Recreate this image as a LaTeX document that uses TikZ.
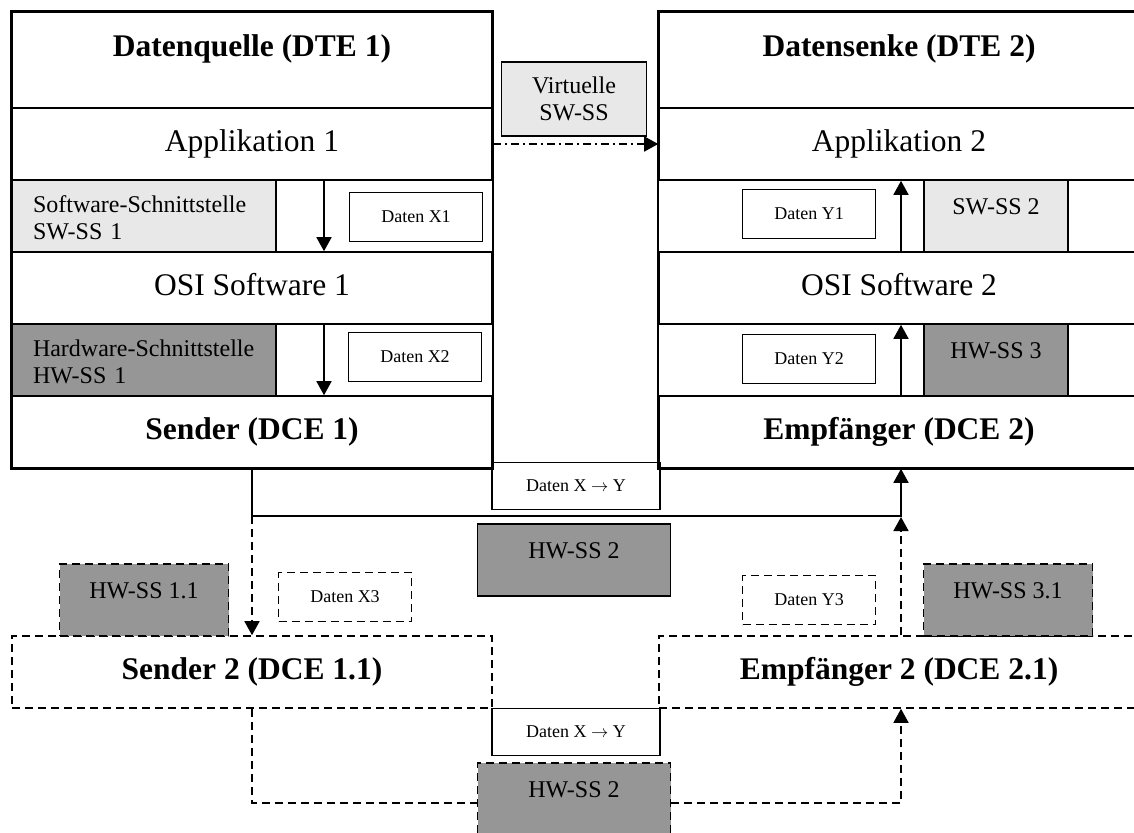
\documentclass[tikz,border=0pt]{standalone}
\usepackage{fontspec}
\setmainfont{Liberation Serif}
\usetikzlibrary{arrows.meta}
\definecolor{swgray}{RGB}{232,232,232}
\definecolor{hwgray}{RGB}{150,150,150}

\begin{document}
\begin{tikzpicture}[x=1pt,y=-1pt,
  every node/.style={inner sep=0pt,line width=1.6pt},
  layer/.style={draw,minimum width=480pt,minimum height=72pt,
    font=\fontsize{31.5}{36}\selectfont,text height=22pt,text depth=7pt},
  title/.style={layer,minimum height=96pt,font=\fontsize{31.5}{36}\selectfont\bfseries,
    text height=22pt,text depth=28pt},
  dce/.style={layer,font=\fontsize{31.5}{36}\selectfont\bfseries},
  ssbox/.style={draw,minimum height=72pt,font=\fontsize{24}{27.5}\selectfont},
  sstop/.style={ssbox,text height=16pt,text depth=20pt},
  datbox/.style={draw,minimum width=133pt,minimum height=49pt,font=\fontsize{18}{21}\selectfont},
  dashline/.style={dash pattern=on 8pt off 5pt},
  arr/.style={line width=1.6pt,-{Triangle[length=14pt,width=15pt]}}]
  \useasboundingbox (0,0) rectangle (1134,832);

  % DTE 1
  \node[title] (dte1) at (252,60) {Datenquelle (DTE 1)};
  \node[layer] (app1) at (252,144) {Applikation 1};
  \node[layer] (osi1) at (252,288) {OSI Software 1};
  \node[dce] (dce1) at (252,432) {Sender (DCE 1)};
  \draw[line width=1.6pt] (dte1.north west) rectangle (dce1.south east);
  \node[ssbox,fill=swgray,minimum width=264pt,text width=222pt,align=left] (sw1) at (144,216)
    {\rule{0pt}{20pt}Software-Schnittstelle\\SW-SS 1};
  \node[ssbox,fill=hwgray,minimum width=264pt,text width=222pt,align=left] (hw1) at (144,360)
    {\rule{0pt}{20pt}Hardware-Schnittstelle\\HW-SS 1};
  \node[datbox] (dx1) at (416,217) {Daten X1};
  \node[datbox] (dx2) at (415,357) {Daten X2};

  % DTE 2
  \node[title] (dte2) at (899,60) {Datensenke (DTE 2)};
  \node[layer] (app2) at (899,144) {Applikation 2};
  \node[layer] (osi2) at (899,288) {OSI Software 2};
  \node[dce] (dce2) at (899,432) {Empfänger (DCE 2)};
  \draw[line width=1.6pt] (dte2.north west) rectangle (dce2.south east);
  \node[sstop,fill=swgray,minimum width=144pt] (sw2) at (996,216) {SW-SS 2};
  \node[sstop,fill=hwgray,minimum width=144pt] (hw3) at (996,360) {HW-SS 3};
  \node[datbox] (dy1) at (809,214) {Daten Y1};
  \node[datbox] (dy2) at (809,359) {Daten Y2};

  % Mitte
  \node[ssbox,fill=swgray,minimum width=145pt,minimum height=74pt,align=center] (vss) at (574,99)
    {Virtuelle\\SW-SS};
  \node[datbox,minimum width=168pt,minimum height=47pt] (dxy1) at (576,486) {Daten X $\rightarrow$ Y};
  \node[sstop,fill=hwgray,minimum width=193pt] (hw2a) at (574,560) {HW-SS 2};

  % zweite Strecke
  \node[dce,dashline] (send2) at (252,672) {Sender 2 (DCE 1.1)};
  \node[dce,dashline] (emp2) at (899,672) {Empfänger 2 (DCE 2.1)};
  \node[sstop,dashline,fill=hwgray,minimum width=169pt] (hw11) at (144,600) {HW-SS 1.1};
  \node[sstop,dashline,fill=hwgray,minimum width=169pt] (hw31) at (1008,600) {HW-SS 3.1};
  \node[datbox,dashline] (dx3) at (345,597) {Daten X3};
  \node[datbox,dashline] (dy3) at (809,600) {Daten Y3};
  \node[datbox,minimum width=168pt,minimum height=47pt] (dxy2) at (576,732) {Daten X $\rightarrow$ Y};
  \node[sstop,dashline,fill=hwgray,minimum width=193pt] (hw2b) at (574,799) {HW-SS 2};

  \coordinate (dn) at (324,0);
  \coordinate (up) at (901,0);
  \coordinate (bus1) at (252,516);
  \coordinate (bus2) at (252,803);

  \draw[arr] (dn |- app1.south) -- (dn |- osi1.north);
  \draw[arr] (dn |- osi1.south) -- (dn |- dce1.north);
  \draw[arr] (up |- dce2.north) -- (up |- osi2.south);
  \draw[arr] (up |- osi2.north) -- (up |- app2.south);
  \draw[arr,dash pattern=on 8pt off 4pt on 2pt off 4pt] (app1.east) -- (app2.west);

  \draw[arr] (dce1.south) |- (up |- bus1) -- (up |- dce2.south);
  \draw[arr,dashline] (bus1) -- (send2.north);
  \draw[arr,dashline,shorten >=1pt] (up |- emp2.north) -- (up |- bus1);
  \draw[line width=1.6pt,dashline] (send2.south) |- (hw2b.west |- bus2);
  \draw[arr,dashline] (hw2b.east |- bus2) -| (up |- emp2.south);
\end{tikzpicture}
\end{document}
